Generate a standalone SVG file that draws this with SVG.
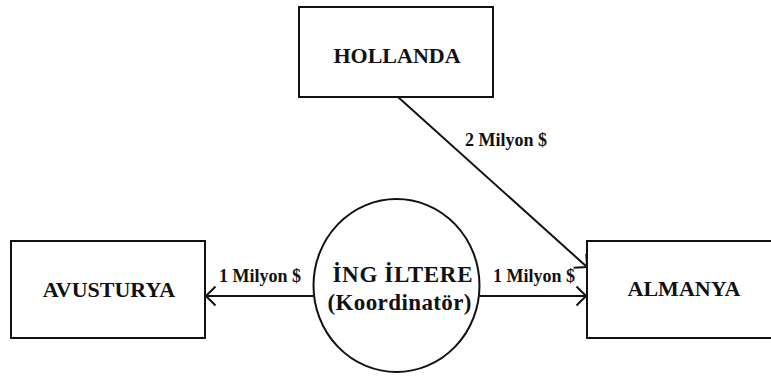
<svg xmlns="http://www.w3.org/2000/svg" width="771" height="381" viewBox="0 0 771 381">
<defs>
<style>
.box{fill:#fff;stroke:#111;stroke-width:2}
.node{font-family:"Liberation Serif","Times New Roman",serif;font-weight:bold;font-size:22px;fill:#111;text-anchor:middle}
.big{font-size:23px}
.lbl{font-family:"Liberation Serif","Times New Roman",serif;font-weight:bold;font-size:18px;fill:#111}
.edge{stroke:#111;stroke-width:2;fill:none}
</style>
<marker id="arr" markerUnits="userSpaceOnUse" markerWidth="30" markerHeight="30" viewBox="-15 -15 30 30" refX="0" refY="0" orient="auto">
<path d="M-9.5,-9.5 L0,0 L-9.5,9.5" fill="none" stroke="#111" stroke-width="2"/>
</marker>
</defs>
<rect width="771" height="381" fill="#fff"/>
<g id="hollanda"><rect class="box" x="299" y="7" width="194" height="90"/><text class="node" x="397" y="63">HOLLANDA</text></g>
<g id="avusturya"><rect class="box" x="11" y="241" width="194" height="97"/><text class="node" x="109" y="297">AVUSTURYA</text></g>
<g id="almanya"><rect class="box" x="587" y="241" width="190" height="97"/><text class="node" x="684" y="296">ALMANYA</text></g>
<g id="ingiltere"><ellipse class="box" cx="396.5" cy="285.5" rx="83" ry="86.5"/><text class="node big" x="402.5" y="282" textLength="140" lengthAdjust="spacing">İNG İLTERE</text><text class="node big" x="399.5" y="310" textLength="144" lengthAdjust="spacing">(Koordinatör)</text></g>
<g id="connectors">
<line class="edge" x1="313.5" y1="296" x2="206" y2="296" marker-end="url(#arr)"/>
<line class="edge" x1="479.5" y1="296" x2="586" y2="296" marker-end="url(#arr)"/>
<line class="edge" x1="398" y1="97" x2="587" y2="267" marker-end="url(#arr)"/>
<text class="lbl" x="219" y="282">1 Milyon $</text>
<text class="lbl" x="493" y="282">1 Milyon $</text>
<text class="lbl" x="465" y="146">2 Milyon $</text>
</g>
</svg>
